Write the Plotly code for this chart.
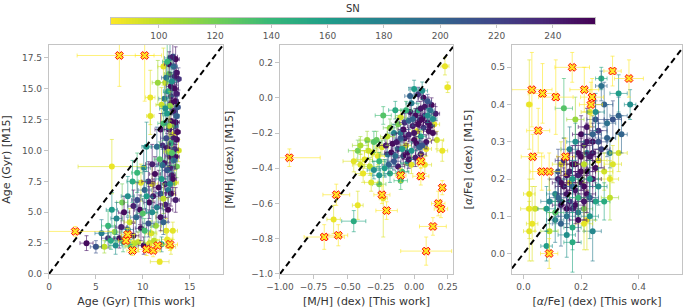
import plotly.graph_objects as go
from plotly.colors import sample_colorscale

SN_MIN, SN_MAX = 83, 255
SN_TICKS = [100, 120, 140, 160, 180, 200, 220, 240]
SN_EDGES = [83, 100, 115, 130, 145, 160, 175, 190, 205, 220, 235, 256]

# ---------------- Age panel ----------------
age_x = [13.2, 12.9, 13.5, 12.6, 13.3, 12.8, 13.6, 13.1, 12.4, 13.4,
         12.7, 13.0, 12.3, 13.5, 12.9, 13.3, 12.6, 13.6, 13.0, 12.2,
         13.4, 12.8, 13.2, 12.5, 13.6, 13.0, 12.1, 13.4, 12.7, 13.8,
         11.5, 10.4, 12.9, 13.3, 12.3, 11.8, 11.0, 13.6, 12.6, 10.1,
         11.3, 13.1, 9.4, 12.0, 10.6, 13.4, 9.8, 8.9, 11.7, 12.7,
         10.2, 8.4, 11.1, 9.4, 12.2, 7.8, 10.7, 9.0, 11.5, 6.7,
         8.0, 10.0, 9.3, 7.2, 11.9, 8.6, 10.6, 6.3, 7.7, 9.8,
         11.4, 5.6, 7.0, 9.0, 10.9, 12.5, 4.0, 5.0, 6.3, 5.9,
         7.1, 7.9, 8.7, 9.5, 10.1, 11.2, 12.0, 13.2, 6.6, 8.3,
         12.7, 13.5, 12.9, 13.7, 12.0, 11.6, 12.2, 13.7, 13.8, 11.9,
         6.7, 10.8, 10.8, 11.8,
         12.8, 13.4, 12.5, 13.0, 13.6, 12.4, 13.1, 13.5, 12.8, 13.3,
         12.6, 13.1, 13.5, 12.1, 12.9, 13.2, 12.4, 11.0, 13.0, 11.9,
         10.4, 12.4, 9.7, 11.0, 12.2, 10.2, 8.4, 7.5, 9.1, 10.7, 12.6, 13.0]
age_y = [17.6, 17.5, 17.4, 17.2, 16.8, 16.2, 16.3, 15.6, 15.5, 15.0,
         14.8, 14.4, 14.2, 14.0, 13.6, 13.2, 13.0, 12.8, 12.4, 12.2,
         12.0, 11.7, 11.3, 11.0, 10.9, 10.6, 10.4, 10.1, 9.9, 10.0,
         10.3, 10.3, 9.5, 9.2, 9.0, 9.3, 8.9, 8.7, 8.4, 8.6,
         8.1, 8.0, 8.2, 7.7, 7.5, 7.4, 7.4, 7.5, 7.0, 6.8,
         6.8, 6.3, 6.3, 6.0, 6.1, 5.8, 5.8, 5.5, 5.4, 5.2,
         5.0, 4.9, 4.6, 4.5, 4.6, 4.2, 4.1, 3.9, 3.8, 3.7,
         3.9, 3.3, 3.4, 3.1, 3.3, 3.5, 2.5, 2.2, 2.9, 2.2,
         2.3, 2.6, 2.2, 2.6, 2.3, 2.7, 2.4, 3.5, 2.7, 3.0,
         5.2, 6.0, 7.3, 11.5, 13.7, 15.5, 16.8, 13.5, 15.8, 11.7,
         8.7, 14.3, 12.8, 1.0,
         17.0, 16.0, 15.9, 15.2, 14.6, 13.4, 13.9, 12.3, 12.0, 11.0,
         10.2, 9.8, 9.5, 8.8, 8.6, 7.7, 7.3, 7.3, 6.5, 6.5,
         6.3, 5.6, 5.2, 5.0, 4.2, 3.5, 3.6, 2.9, 2.5, 2.5, 2.8, 2.2]
age_xe = [0.5, 0.6, 0.4, 0.5, 0.4, 0.5, 0.3, 0.5, 0.6, 0.4,
          0.5, 0.5, 0.6, 0.3, 0.5, 0.4, 0.5, 0.3, 0.5, 0.6,
          0.4, 0.5, 0.4, 0.6, 0.3, 0.5, 0.6, 0.4, 0.5, 0.3,
          0.6, 0.5, 0.5, 0.4, 0.6, 0.6, 0.7, 0.3, 0.5, 0.7,
          0.6, 0.4, 0.6, 0.6, 0.7, 0.4, 0.6, 0.6, 0.6, 0.5,
          0.7, 0.7, 0.6, 0.6, 0.5, 0.6, 0.6, 0.6, 0.6, 0.6,
          0.6, 0.6, 0.6, 0.6, 0.5, 0.6, 0.6, 0.7, 0.6, 0.6,
          0.6, 0.7, 0.6, 0.6, 0.6, 0.6, 0.7, 0.6, 0.7, 0.6,
          0.7, 0.6, 0.6, 0.7, 0.6, 0.6, 0.6, 0.5, 0.6, 0.6,
          0.5, 0.4, 0.5, 0.3, 0.6, 0.6, 0.6, 0.3, 0.3, 0.6,
          3.6, 0.5, 0.4, 1.0,
          0.5, 0.4, 0.5, 0.5, 0.3, 0.6, 0.4, 0.4, 0.5, 0.4,
          0.5, 0.5, 0.4, 0.6, 0.5, 0.4, 0.5, 0.6, 0.5, 0.6,
          0.6, 0.5, 0.6, 0.6, 0.5, 0.6, 0.6, 0.6, 0.6, 0.6, 0.6, 0.5]
age_ye = [1.0, 1.2, 1.0, 1.5, 1.0, 1.3, 1.0, 1.2, 1.5, 1.0,
          1.2, 1.1, 1.4, 0.9, 1.2, 1.0, 1.3, 0.9, 1.1, 1.4,
          1.0, 1.2, 1.0, 1.3, 0.9, 1.1, 1.5, 1.0, 1.2, 0.9,
          1.6, 2.0, 1.1, 1.0, 1.3, 1.4, 1.6, 0.9, 1.2, 1.8,
          1.4, 1.0, 1.6, 1.3, 1.6, 1.0, 1.5, 1.7, 1.4, 1.1,
          1.5, 1.6, 1.4, 1.4, 1.2, 1.5, 1.3, 1.3, 1.2, 1.4,
          1.3, 1.2, 1.2, 1.3, 1.1, 1.1, 1.1, 1.2, 1.1, 1.0,
          1.1, 1.1, 1.1, 1.0, 1.0, 1.0, 0.6, 0.5, 0.8, 0.5,
          0.7, 0.8, 0.6, 0.8, 0.7, 0.7, 0.6, 0.7, 0.7, 0.7,
          1.0, 1.0, 1.0, 0.8, 1.4, 1.8, 1.5, 0.9, 0.9, 1.3,
          2.2, 2.2, 1.5, 0.2,
          1.0, 1.0, 1.3, 1.1, 0.9, 1.3, 1.0, 0.9, 1.1, 1.0,
          1.2, 1.0, 1.0, 1.3, 1.1, 1.0, 1.1, 1.4, 1.0, 1.2,
          1.3, 1.0, 1.2, 1.2, 1.0, 1.0, 1.0, 0.8, 0.7, 0.7, 0.7, 0.6]
age_sn = [240, 180, 250, 140, 200, 120, 245, 170, 95, 250,
          150, 230, 185, 252, 110, 240, 160, 200, 250, 135,
          175, 245, 90, 215, 250, 150, 230, 240, 100, 95,
          190, 165, 250, 200, 245, 130, 240, 120, 210, 175,
          250, 245, 140, 160, 235, 95, 90, 150, 250, 185,
          200, 170, 245, 215, 100, 120, 250, 240, 180, 160,
          250, 130, 195, 175, 245, 95, 210, 140, 240, 250,
          110, 180, 120, 245, 92, 90, 250, 210, 230, 100,
          170, 140, 130, 95, 250, 100, 160, 90, 150, 100,
          250, 240, 170, 250, 95, 110, 90, 210, 230, 245,
          88, 88, 90, 88,
          250, 245, 190, 250, 240, 170, 250, 250, 100, 245,
          250, 130, 250, 200, 240, 250, 245, 90, 250, 220,
          160, 240, 250, 170, 200, 135, 180, 250, 100, 92, 88, 90]
# flagged outliers (red crosses)
age_out_x = [7.5, 10.2, 2.8, 8.2, 8.4, 8.9, 10.4, 11.1, 11.6, 12.9]
age_out_y = [17.7, 17.7, 3.45, 2.7, 3.2, 1.9, 2.0, 1.9, 2.3, 2.4]
age_out_xe = [4.5, 1.0, 4.0, 0.8, 0.7, 0.6, 0.9, 0.8, 0.8, 0.8]
age_out_ye = [2.5, 3.7, 0.4, 0.5, 0.5, 0.4, 0.5, 0.5, 0.5, 0.5]

# ---------------- [M/H] panel ----------------
mh_x = [0.23, 0.25, -0.23, -0.10, 0.00, 0.03, 0.07, 0.10, -0.02, 0.05,
        0.12, -0.06, 0.01, 0.08, -0.04, 0.04, 0.14, -0.12, -0.01, 0.07,
        -0.08, 0.02, 0.11, -0.15, -0.04, 0.05, -0.20, -0.10, 0.00, 0.09,
        -0.28, -0.16, -0.06, 0.04, -0.35, -0.24, -0.12, -0.02, 0.09, -0.42,
        -0.31, -0.20, -0.08, 0.01, -0.37, -0.26, -0.15, -0.05, -0.45, -0.33,
        -0.22, -0.12, -0.30, -0.18, -0.09, -0.38, -0.26, -0.10, -0.32, -0.26,
        -0.60, -0.42, -0.23, 0.21, 0.17, 0.15, 0.13, 0.16, -0.03, 0.06,
        -0.14, -0.30, 0.05, -0.02, 0.08, 0.03, 0.10, -0.07, -0.40, -0.18,
        -0.45,
        -0.03, 0.06, 0.00, -0.07, 0.08, 0.12, -0.05, -0.13, 0.02, -0.10,
        0.06, -0.17, -0.01, 0.10, -0.21, -0.04, -0.14, 0.03, 0.14, -0.09,
        -0.27, -0.34, -0.19, -0.40]
mh_y = [0.18, 0.06, -0.10, -0.11, 0.05, 0.02, 0.00, -0.02, -0.03, -0.06,
        -0.07, -0.07, -0.10, -0.10, -0.13, -0.13, -0.12, -0.15, -0.16, -0.17,
        -0.18, -0.19, -0.19, -0.20, -0.21, -0.22, -0.22, -0.23, -0.24, -0.25,
        -0.24, -0.26, -0.27, -0.28, -0.24, -0.28, -0.29, -0.30, -0.29, -0.30,
        -0.31, -0.32, -0.33, -0.34, -0.35, -0.36, -0.36, -0.37, -0.36, -0.39,
        -0.40, -0.39, -0.41, -0.43, -0.42, -0.43, -0.44, -0.47, -0.48, -0.49,
        -0.69, -0.61, -0.57, -0.30, -0.24, -0.15, -0.04, -0.09, 0.01, 0.04,
        -0.07, -0.25, -0.32, -0.38, -0.38, -0.15, -0.14, -0.23, -0.27, -0.17,
        -0.70,
        -0.08, -0.12, -0.20, -0.14, -0.05, -0.16, -0.31, -0.25, -0.26, -0.20,
        -0.27, -0.31, -0.12, -0.10, -0.27, -0.35, -0.33, -0.07, -0.20, -0.29,
        -0.33, -0.30, -0.38, -0.38]
mh_xe = [0.03, 0.02, 0.06, 0.04, 0.04, 0.03, 0.04, 0.03, 0.04, 0.03,
         0.03, 0.04, 0.04, 0.03, 0.04, 0.03, 0.03, 0.05, 0.04, 0.03,
         0.04, 0.04, 0.04, 0.05, 0.04, 0.04, 0.05, 0.04, 0.04, 0.04,
         0.06, 0.05, 0.04, 0.04, 0.06, 0.05, 0.05, 0.04, 0.04, 0.07,
         0.06, 0.05, 0.05, 0.04, 0.06, 0.05, 0.05, 0.05, 0.08, 0.06,
         0.06, 0.05, 0.05, 0.05, 0.05, 0.06, 0.05, 0.05, 0.05, 0.05,
         0.05, 0.04, 0.03, 0.04, 0.05, 0.04, 0.03, 0.03, 0.04, 0.04,
         0.05, 0.06, 0.04, 0.05, 0.05, 0.04, 0.03, 0.04, 0.06, 0.05,
         0.09,
         0.04, 0.03, 0.04, 0.04, 0.03, 0.03, 0.04, 0.05, 0.04, 0.04,
         0.04, 0.05, 0.04, 0.03, 0.05, 0.05, 0.05, 0.03, 0.03, 0.04,
         0.05, 0.06, 0.05, 0.06]
mh_ye = [0.05, 0.03, 0.05, 0.04, 0.05, 0.04, 0.05, 0.04, 0.04, 0.04,
         0.04, 0.05, 0.04, 0.04, 0.05, 0.04, 0.04, 0.05, 0.04, 0.04,
         0.05, 0.04, 0.04, 0.05, 0.04, 0.04, 0.05, 0.05, 0.04, 0.04,
         0.05, 0.05, 0.05, 0.04, 0.05, 0.05, 0.05, 0.05, 0.04, 0.06,
         0.05, 0.05, 0.05, 0.05, 0.05, 0.05, 0.05, 0.05, 0.06, 0.05,
         0.05, 0.05, 0.05, 0.05, 0.05, 0.05, 0.05, 0.05, 0.05, 0.05,
         0.08, 0.08, 0.22, 0.06, 0.05, 0.05, 0.04, 0.04, 0.05, 0.05,
         0.05, 0.06, 0.04, 0.05, 0.05, 0.04, 0.04, 0.04, 0.05, 0.05,
         0.06,
         0.04, 0.04, 0.04, 0.05, 0.04, 0.04, 0.05, 0.05, 0.04, 0.05,
         0.04, 0.05, 0.04, 0.04, 0.05, 0.05, 0.05, 0.04, 0.04, 0.05,
         0.05, 0.05, 0.05, 0.06]
mh_sn = [88, 88, 130, 95, 160, 230, 250, 210, 180, 245,
         190, 140, 250, 235, 200, 250, 170, 120, 245, 220,
         250, 90, 250, 175, 240, 155, 100, 210, 250, 245,
         125, 250, 95, 200, 110, 92, 230, 165, 88, 120,
         95, 180, 250, 240, 90, 140, 210, 175, 90, 100,
         160, 245, 170, 150, 135, 88, 165, 140, 92, 120,
         88, 88, 88, 88, 95, 88, 250, 240, 200, 170,
         150, 130, 250, 90, 88, 250, 245, 250, 105, 115,
         150,
         250, 250, 245, 230, 245, 250, 250, 245, 250, 180,
         210, 250, 200, 170, 245, 245, 190, 150, 250, 160,
         88, 95, 200, 92]
mh_out_x = [-0.93, -0.58, -0.67, -0.565, -0.24, -0.205, -0.10, 0.05, 0.05, 0.21, 0.18, 0.20, 0.14, 0.09]
mh_out_y = [-0.34, -0.55, -0.79, -0.78, -0.55, -0.64, -0.44, -0.36, -0.445, -0.51, -0.60, -0.63, -0.73, -0.87]
mh_out_xe = [0.23, 0.10, 0.15, 0.07, 0.06, 0.08, 0.04, 0.03, 0.06, 0.02, 0.05, 0.05, 0.10, 0.19]
mh_out_ye = [0.05, 0.06, 0.07, 0.06, 0.05, 0.05, 0.04, 0.04, 0.05, 0.04, 0.07, 0.05, 0.05, 0.08]

# ---------------- [alpha/Fe] panel ----------------
afe_x = [0.02, 0.02, 0.02, 0.03, 0.02, 0.04, 0.08, 0.09, 0.13, 0.14,
         0.27, 0.27, 0.28, 0.33, 0.37, 0.33, 0.31, 0.29, 0.34, 0.23,
         0.25, 0.22, 0.26, 0.20, 0.24, 0.18, 0.21, 0.27, 0.16, 0.19,
         0.23, 0.30, 0.14, 0.17, 0.21, 0.25, 0.12, 0.15, 0.19, 0.23,
         0.28, 0.13, 0.17, 0.21, 0.26, 0.11, 0.15, 0.19, 0.23, 0.09,
         0.13, 0.17, 0.21, 0.25, 0.11, 0.15, 0.19, 0.23, 0.13, 0.17,
         0.21, 0.15, 0.28, 0.30, 0.33, 0.31, 0.26, 0.18, 0.20, 0.22,
         0.16, 0.24, 0.12, 0.18, 0.08, 0.24, 0.22,
         0.20, 0.22, 0.18, 0.16, 0.20, 0.14, 0.18, 0.22, 0.16, 0.24,
         0.22, 0.26, 0.15, 0.19, 0.12, 0.17, 0.24, 0.21, 0.13, 0.25,
         0.29, 0.11, 0.30, 0.17]
afe_y = [0.40, 0.16, 0.12, 0.08, 0.06, 0.12, 0.02, 0.06, 0.14, 0.39,
         0.47, 0.45, 0.40, 0.43, 0.40, 0.37, 0.36, 0.35, 0.32, 0.38,
         0.36, 0.34, 0.33, 0.32, 0.30, 0.30, 0.29, 0.28, 0.28, 0.27,
         0.26, 0.27, 0.25, 0.24, 0.24, 0.23, 0.22, 0.21, 0.21, 0.20,
         0.22, 0.19, 0.18, 0.18, 0.18, 0.16, 0.16, 0.15, 0.15, 0.14,
         0.13, 0.12, 0.12, 0.14, 0.11, 0.10, 0.09, 0.10, 0.08, 0.07,
         0.08, 0.05, 0.14, 0.15, 0.27, 0.24, 0.25, 0.36, 0.22, 0.27,
         0.19, 0.32, 0.20, 0.13, 0.12, 0.06, 0.09,
         0.26, 0.22, 0.24, 0.22, 0.19, 0.18, 0.17, 0.16, 0.14, 0.27,
         0.30, 0.30, 0.12, 0.11, 0.15, 0.20, 0.20, 0.14, 0.24, 0.38,
         0.31, 0.09, 0.20, 0.03]
afe_xe = [0.01, 0.02, 0.03, 0.02, 0.02, 0.03, 0.02, 0.03, 0.03, 0.03,
          0.02, 0.02, 0.03, 0.03, 0.02, 0.03, 0.03, 0.03, 0.02, 0.03,
          0.03, 0.03, 0.03, 0.03, 0.03, 0.03, 0.03, 0.03, 0.03, 0.03,
          0.03, 0.03, 0.03, 0.03, 0.03, 0.03, 0.03, 0.03, 0.03, 0.03,
          0.03, 0.03, 0.03, 0.03, 0.03, 0.03, 0.03, 0.03, 0.03, 0.03,
          0.03, 0.03, 0.03, 0.03, 0.03, 0.03, 0.03, 0.03, 0.03, 0.03,
          0.03, 0.03, 0.02, 0.03, 0.03, 0.03, 0.03, 0.03, 0.03, 0.03,
          0.03, 0.03, 0.03, 0.03, 0.03, 0.03, 0.03,
          0.03, 0.03, 0.03, 0.03, 0.03, 0.03, 0.03, 0.03, 0.03, 0.03,
          0.03, 0.03, 0.03, 0.03, 0.03, 0.03, 0.03, 0.03, 0.03, 0.03,
          0.03, 0.03, 0.03, 0.03]
afe_ye = [0.12, 0.10, 0.08, 0.10, 0.08, 0.06, 0.04, 0.05, 0.06, 0.08,
          0.03, 0.04, 0.06, 0.05, 0.04, 0.05, 0.05, 0.05, 0.05, 0.06,
          0.05, 0.05, 0.05, 0.05, 0.05, 0.05, 0.05, 0.05, 0.06, 0.05,
          0.05, 0.04, 0.06, 0.05, 0.05, 0.05, 0.06, 0.05, 0.05, 0.05,
          0.05, 0.05, 0.05, 0.05, 0.05, 0.06, 0.05, 0.05, 0.05, 0.06,
          0.05, 0.05, 0.06, 0.05, 0.05, 0.05, 0.06, 0.06, 0.06, 0.06,
          0.07, 0.06, 0.05, 0.06, 0.05, 0.05, 0.05, 0.06, 0.05, 0.05,
          0.05, 0.05, 0.06, 0.05, 0.06, 0.08, 0.08,
          0.05, 0.05, 0.05, 0.05, 0.05, 0.05, 0.05, 0.05, 0.05, 0.05,
          0.05, 0.05, 0.05, 0.05, 0.05, 0.05, 0.05, 0.05, 0.06, 0.05,
          0.05, 0.06, 0.05, 0.08]
afe_sn = [88, 88, 88, 88, 90, 95, 160, 100, 150, 130,
          150, 190, 200, 160, 170, 200, 210, 190, 200, 95,
          210, 245, 230, 250, 250, 170, 240, 220, 180, 250,
          245, 180, 230, 250, 100, 250, 210, 250, 240, 160,
          95, 250, 200, 250, 170, 180, 245, 140, 210, 175,
          250, 230, 120, 155, 130, 190, 250, 165, 200, 150,
          90, 170, 150, 100, 95, 92, 88, 110, 250, 180,
          90, 200, 245, 250, 160, 175, 88,
          250, 245, 250, 240, 250, 250, 245, 250, 230, 250,
          245, 210, 250, 180, 200, 160, 250, 245, 90, 170,
          200, 180, 88, 150]
afe_out_x = [0.029, 0.066, 0.112, 0.169, 0.211, 0.238, 0.234, 0.309, 0.366, 0.051, 0.032, 0.063, 0.089, 0.146, 0.089]
afe_out_y = [0.44, 0.43, 0.42, 0.50, 0.44, 0.42, 0.40, 0.49, 0.47, 0.33, 0.26, 0.22, 0.22, 0.26, 0.00]
afe_out_xe = [0.07, 0.05, 0.06, 0.06, 0.05, 0.04, 0.04, 0.03, 0.05, 0.04, 0.04, 0.04, 0.04, 0.03, 0.03]
afe_out_ye = [0.10, 0.08, 0.10, 0.04, 0.06, 0.05, 0.06, 0.04, 0.05, 0.06, 0.06, 0.05, 0.05, 0.05, 0.04]

AGE_XRANGE, AGE_YRANGE = [0, 18.55], [0, 18.55]
MH_XRANGE, MH_YRANGE = [-1.0, 0.29], [-1.0, 0.30]
AFE_XRANGE, AFE_YRANGE = [-0.04, 0.55], [-0.055, 0.56]

AGE_XTICKS = [0, 5, 10, 15]
AGE_YTICKS = [0, 2.5, 5, 7.5, 10, 12.5, 15, 17.5]
MH_XTICKS = [-1.0, -0.75, -0.5, -0.25, 0.0, 0.25]
MH_YTICKS = [-1.0, -0.8, -0.6, -0.4, -0.2, 0.0, 0.2]
AFE_XTICKS = [0.0, 0.2, 0.4]
AFE_YTICKS = [0.0, 0.1, 0.2, 0.3, 0.4, 0.5]

FONT = "DejaVu Sans"
SPINE = '#c4c4c4'


def sn_color(s):
    t = (s - SN_MIN) / (SN_MAX - SN_MIN)
    return sample_colorscale('Viridis', [1 - t])[0]


def rgba(c, a):
    vals = [v.strip() for v in c[c.index('(') + 1:c.index(')')].split(',')]
    return f"rgba({vals[0]},{vals[1]},{vals[2]},{a})"


fig = go.Figure()
BIN_ORDER = [2, 6, 0, 9, 4, 10, 1, 7, 3, 8, 5]


def add_panel(sfx, xs, ys, xes, yes, sns, ox, oy, oxe, oye, xr, yr):
    for b in BIN_ORDER:
        idx = [i for i, s in enumerate(sns) if SN_EDGES[b] <= s < SN_EDGES[b + 1]]
        if not idx:
            continue
        col = rgba(sn_color((SN_EDGES[b] + SN_EDGES[b + 1]) / 2), 0.6)
        fig.add_trace(go.Scatter(
            x=[xs[i] for i in idx], y=[ys[i] for i in idx], mode='markers',
            marker=dict(color=[sns[i] for i in idx], colorscale='Viridis', reversescale=True,
                        cmin=SN_MIN, cmax=SN_MAX, size=6, line=dict(width=0)),
            error_x=dict(type='data', array=[xes[i] for i in idx], color=col, thickness=1, width=2),
            error_y=dict(type='data', array=[yes[i] for i in idx], color=col, thickness=1, width=2),
            xaxis='x' + sfx, yaxis='y' + sfx, showlegend=False, hoverinfo='skip'))
    lo = max(xr[0], yr[0])
    hi = min(xr[1], yr[1])
    fig.add_trace(go.Scatter(x=[lo, hi], y=[lo, hi], mode='lines',
                             line=dict(color='black', width=2, dash='6px,4px'),
                             xaxis='x' + sfx, yaxis='y' + sfx, showlegend=False, hoverinfo='skip'))
    ycol = 'rgba(253,231,37,0.6)'
    fig.add_trace(go.Scatter(
        x=ox, y=oy, mode='markers',
        marker=dict(symbol='x', size=7, color='#fde725', line=dict(color='red', width=1)),
        error_x=dict(type='data', array=oxe, color=ycol, thickness=1, width=2),
        error_y=dict(type='data', array=oye, color=ycol, thickness=1, width=2),
        xaxis='x' + sfx, yaxis='y' + sfx, showlegend=False, hoverinfo='skip'))


add_panel('', age_x, age_y, age_xe, age_ye, age_sn,
          age_out_x, age_out_y, age_out_xe, age_out_ye, AGE_XRANGE, AGE_YRANGE)
add_panel('2', mh_x, mh_y, mh_xe, mh_ye, mh_sn,
          mh_out_x, mh_out_y, mh_out_xe, mh_out_ye, MH_XRANGE, MH_YRANGE)
add_panel('3', afe_x, afe_y, afe_xe, afe_ye, afe_sn,
          afe_out_x, afe_out_y, afe_out_xe, afe_out_ye, AFE_XRANGE, AFE_YRANGE)

# colour bar drawn as a one-row heatmap on its own axis
cb_vals = list(range(SN_MIN, SN_MAX + 1))
fig.add_trace(go.Heatmap(x=cb_vals, y=[0], z=[cb_vals], colorscale='Viridis', reversescale=True,
                         zmin=SN_MIN, zmax=SN_MAX, showscale=False, hoverinfo='skip',
                         xaxis='x4', yaxis='y4'))

axis_common = dict(showline=True, mirror=True, linecolor=SPINE, linewidth=1.2,
                   ticks='outside', ticklen=4, tickcolor=SPINE, automargin=False,
                   tickfont=dict(size=9, color='#555555', family=FONT),
                   showgrid=False, zeroline=False,
                   title_font=dict(size=11, color='#333333', family=FONT))

YD = [0.1104, 0.8539]
fig.update_layout(
    width=693, height=308, margin=dict(l=0, r=0, t=0, b=0, autoexpand=False),
    paper_bgcolor='white', plot_bgcolor='white', font=dict(family=FONT),
    xaxis=dict(domain=[0.0707, 0.3218], range=AGE_XRANGE, tickvals=AGE_XTICKS, anchor='y',
               title=dict(text='Age (Gyr) [This work]'), **axis_common),
    yaxis=dict(domain=YD, range=AGE_YRANGE, tickvals=AGE_YTICKS, tickformat='.1f', anchor='x',
               title=dict(text='Age (Gyr) [M15]'), **axis_common),
    xaxis2=dict(domain=[0.4040, 0.6537], range=MH_XRANGE, tickvals=MH_XTICKS, tickformat='.2f',
                anchor='y2', title=dict(text='[M/H] (dex) [This work]'), **axis_common),
    yaxis2=dict(domain=YD, range=MH_YRANGE, tickvals=MH_YTICKS, tickformat='.1f', anchor='x2',
                title=dict(text='[M/H] (dex) [M15]'), **axis_common),
    xaxis3=dict(domain=[0.7388, 0.9841], range=AFE_XRANGE, tickvals=AFE_XTICKS, tickformat='.1f',
                anchor='y3', title=dict(text='[<i>α</i>/Fe] (dex) [This work]'), **axis_common),
    yaxis3=dict(domain=YD, range=AFE_YRANGE, tickvals=AFE_YTICKS, tickformat='.1f', anchor='x3',
                title=dict(text='[<i>α</i>/Fe] (dex) [M15]'), **axis_common),
    xaxis4=dict(domain=[0.1602, 0.8586], range=[SN_MIN, SN_MAX], tickvals=SN_TICKS, anchor='y4',
                showline=True, mirror=True, linecolor=SPINE, linewidth=1,
                ticks='outside', ticklen=3, tickcolor=SPINE, automargin=False,
                tickfont=dict(size=9, color='#555555', family=FONT), showgrid=False, zeroline=False),
    yaxis4=dict(domain=[0.9221, 0.9416], range=[-0.5, 0.5], anchor='x4', showticklabels=False,
                ticks='', showline=True, mirror=True, linecolor=SPINE, linewidth=1,
                showgrid=False, zeroline=False, automargin=False),
    annotations=[dict(text='SN', x=0.509, y=1 - 8 / 308, xref='paper', yref='paper',
                      showarrow=False, font=dict(size=10, color='#333333', family=FONT),
                      xanchor='center', yanchor='middle')],
)

fig.write_html("out.html", config={'displayModeBar': False},
               post_script="document.body.style.margin='0';document.body.style.overflow='hidden';")
